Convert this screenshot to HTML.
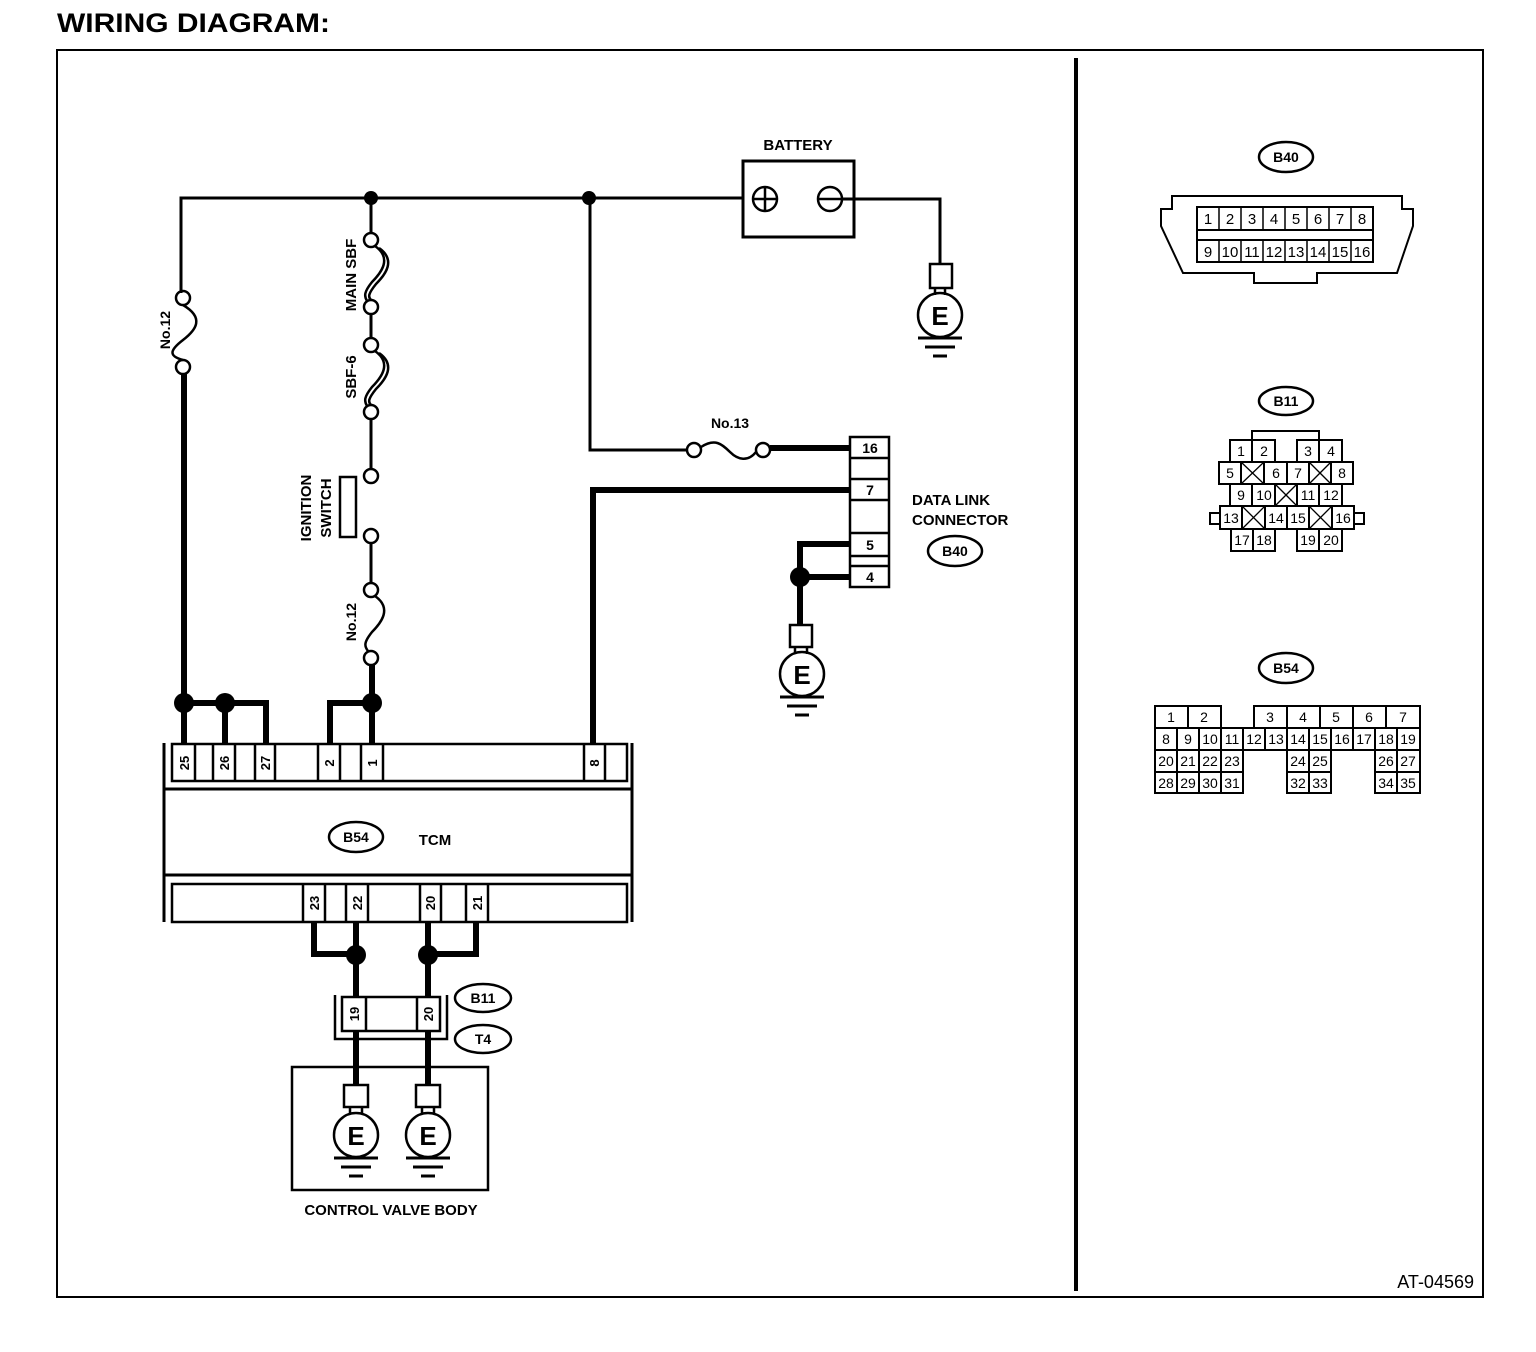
<!DOCTYPE html>
<html><head><meta charset="utf-8"><style>
html,body{margin:0;padding:0;background:#fff;}
svg{display:block;}
text{font-family:"Liberation Sans",Arial,sans-serif;font-weight:bold;fill:#000;}
.n text,text.n{font-weight:normal;}
</style></head><body>
<svg width="1536" height="1352" viewBox="0 0 1536 1352" xmlns="http://www.w3.org/2000/svg">
<g fill="none" stroke="#000">
<!-- frame -->
<rect x="57" y="50" width="1426" height="1247" stroke-width="2"/>
<line x1="1076" y1="58" x2="1076" y2="1291" stroke-width="4"/>

<!-- top wire -->
<polyline points="181,293 181,198 743,198" stroke-width="3"/>
<!-- battery -->
<rect x="743" y="161" width="111" height="76" stroke-width="3"/>
<circle cx="765" cy="199" r="12" stroke-width="2.5"/>
<line x1="753" y1="199" x2="777" y2="199" stroke-width="2.5"/>
<line x1="765" y1="187" x2="765" y2="211" stroke-width="2.5"/>
<circle cx="830" cy="199" r="12" stroke-width="2.5"/>
<line x1="818" y1="199" x2="842" y2="199" stroke-width="2.5"/>
<polyline points="842,199 940,199 940,264" stroke-width="3"/>

<!-- left No.12 fuse -->
<circle cx="183" cy="298" r="7" stroke-width="2.5"/>
<path d="M183,305 C205,318 196,330 183,340 C170,350 168,356 183,360" stroke-width="2.5"/>
<circle cx="183" cy="367" r="7" stroke-width="2.5"/>
<line x1="184" y1="374" x2="184" y2="703" stroke-width="6"/>

<!-- x=371 chain -->
<line x1="371" y1="198" x2="371" y2="233" stroke-width="3"/>
<circle cx="371" cy="240" r="7" stroke-width="2.5"/>
<path d="M375,246 C392,258 382,272 372,282 C364,292 364,296 367,301" stroke-width="2.5"/>
<path d="M379,248 C396,260 386,274 376,284 C368,294 368,297 371,300" stroke-width="2.5"/>
<circle cx="371" cy="307" r="7" stroke-width="2.5"/>
<line x1="371" y1="314" x2="371" y2="338" stroke-width="3"/>
<circle cx="371" cy="345" r="7" stroke-width="2.5"/>
<path d="M375,351 C392,363 382,377 372,387 C364,397 364,401 367,406" stroke-width="2.5"/>
<path d="M379,353 C396,365 386,379 376,389 C368,399 368,402 371,405" stroke-width="2.5"/>
<circle cx="371" cy="412" r="7" stroke-width="2.5"/>
<line x1="371" y1="419" x2="371" y2="469" stroke-width="3"/>
<circle cx="371" cy="476" r="7" stroke-width="2.5"/>
<rect x="340" y="477" width="16" height="60" stroke-width="2.5"/>
<circle cx="371" cy="536" r="7" stroke-width="2.5"/>
<line x1="371" y1="543" x2="371" y2="583" stroke-width="3"/>
<circle cx="371" cy="590" r="7" stroke-width="2.5"/>
<path d="M375,596 C392,608 382,622 372,632 C364,642 364,646 368,651" stroke-width="2.5"/>
<circle cx="371" cy="658" r="7" stroke-width="2.5"/>
<line x1="372" y1="665" x2="372" y2="743" stroke-width="6"/>

<!-- TCM top pins wires -->
<polyline points="184,703 184,743" stroke-width="6"/>
<polyline points="184,703 266,703 266,743" stroke-width="6"/>
<polyline points="225,703 225,743" stroke-width="6"/>
<polyline points="372,703 330,703 330,743" stroke-width="6"/>

<!-- wire 16 -->
<polyline points="590,198 590,450 688,450" stroke-width="3"/>
<circle cx="694" cy="450" r="7" stroke-width="2.5"/>
<path d="M701,447 C715,438 722,444 730,452 C738,460 748,462 756,452" stroke-width="2.5"/>
<circle cx="763" cy="450" r="7" stroke-width="2.5"/>
<line x1="770" y1="448" x2="850" y2="448" stroke-width="6"/>
<!-- wire 8/7 -->
<polyline points="593,743 593,490 850,490" stroke-width="6"/>
<!-- DLC -->
<rect x="850" y="437" width="39" height="150" stroke-width="2.5"/>
<line x1="850" y1="458" x2="889" y2="458" stroke-width="2.5"/>
<line x1="850" y1="479" x2="889" y2="479" stroke-width="2.5"/>
<line x1="850" y1="500" x2="889" y2="500" stroke-width="2.5"/>
<line x1="850" y1="533" x2="889" y2="533" stroke-width="2.5"/>
<line x1="850" y1="556" x2="889" y2="556" stroke-width="2.5"/>
<line x1="850" y1="566" x2="889" y2="566" stroke-width="2.5"/>
<polyline points="850,544 800,544 800,625" stroke-width="6"/>
<line x1="800" y1="577" x2="850" y2="577" stroke-width="6"/>

<!-- TCM body -->
<line x1="164" y1="743" x2="164" y2="922" stroke-width="3"/>
<line x1="632" y1="743" x2="632" y2="922" stroke-width="3"/>
<line x1="164" y1="789" x2="632" y2="789" stroke-width="3"/>
<line x1="164" y1="875" x2="632" y2="875" stroke-width="3"/>
<rect x="172" y="744" width="455" height="37" stroke-width="2.5"/>
<rect x="172" y="884" width="455" height="38" stroke-width="2.5"/>
<g stroke-width="2.5">
<line x1="195" y1="744" x2="195" y2="781"/><line x1="213" y1="744" x2="213" y2="781"/>
<line x1="235" y1="744" x2="235" y2="781"/><line x1="255" y1="744" x2="255" y2="781"/>
<line x1="275" y1="744" x2="275" y2="781"/><line x1="318" y1="744" x2="318" y2="781"/>
<line x1="340" y1="744" x2="340" y2="781"/><line x1="361" y1="744" x2="361" y2="781"/>
<line x1="383" y1="744" x2="383" y2="781"/><line x1="584" y1="744" x2="584" y2="781"/>
<line x1="605" y1="744" x2="605" y2="781"/>
<line x1="303" y1="884" x2="303" y2="922"/><line x1="325" y1="884" x2="325" y2="922"/>
<line x1="346" y1="884" x2="346" y2="922"/><line x1="368" y1="884" x2="368" y2="922"/>
<line x1="420" y1="884" x2="420" y2="922"/><line x1="441" y1="884" x2="441" y2="922"/>
<line x1="466" y1="884" x2="466" y2="922"/><line x1="488" y1="884" x2="488" y2="922"/>
</g>
<ellipse cx="356" cy="837" rx="27" ry="15" stroke-width="2.5"/>

<!-- bottom wires -->
<polyline points="314,922 314,954 356,954" stroke-width="6"/>
<line x1="356" y1="922" x2="356" y2="1085" stroke-width="6"/>
<polyline points="476,922 476,954 428,954" stroke-width="6"/>
<line x1="428" y1="922" x2="428" y2="1085" stroke-width="6"/>
<rect x="342" y="997" width="98" height="34" fill="#fff" stroke-width="2.5"/>
<line x1="366" y1="997" x2="366" y2="1031" stroke-width="2.5"/>
<line x1="417" y1="997" x2="417" y2="1031" stroke-width="2.5"/>
<polyline points="335,995 335,1039 447,1039 447,995" stroke-width="2.5"/>
<ellipse cx="483" cy="998" rx="28" ry="14" stroke-width="2.5"/>
<ellipse cx="483" cy="1039" rx="28" ry="14" stroke-width="2.5"/>
<rect x="292" y="1067" width="196" height="123" stroke-width="2.5"/>
<ellipse cx="955" cy="551" rx="27" ry="15" stroke-width="2.5"/>

<!-- grounds -->
<g stroke-width="2.5">
<rect x="930" y="264" width="22" height="24"/><line x1="935" y1="288" x2="935" y2="295"/><line x1="945" y1="288" x2="945" y2="295"/>
<circle cx="940" cy="315" r="22"/>
<line x1="918" y1="338" x2="962" y2="338" stroke-width="3"/><line x1="925" y1="347" x2="955" y2="347" stroke-width="3"/><line x1="933" y1="356" x2="947" y2="356" stroke-width="3"/>

<rect x="790" y="625" width="22" height="22"/><line x1="795" y1="647" x2="795" y2="654"/><line x1="807" y1="647" x2="807" y2="654"/>
<circle cx="802" cy="674" r="22"/>
<line x1="780" y1="697" x2="824" y2="697" stroke-width="3"/><line x1="787" y1="706" x2="817" y2="706" stroke-width="3"/><line x1="795" y1="715" x2="809" y2="715" stroke-width="3"/>

<rect x="344" y="1085" width="24" height="22"/><line x1="350" y1="1107" x2="350" y2="1114"/><line x1="362" y1="1107" x2="362" y2="1114"/>
<circle cx="356" cy="1135" r="22"/>
<line x1="334" y1="1158" x2="378" y2="1158" stroke-width="3"/><line x1="341" y1="1167" x2="371" y2="1167" stroke-width="3"/><line x1="349" y1="1176" x2="363" y2="1176" stroke-width="3"/>

<rect x="416" y="1085" width="24" height="22"/><line x1="422" y1="1107" x2="422" y2="1114"/><line x1="434" y1="1107" x2="434" y2="1114"/>
<circle cx="428" cy="1135" r="22"/>
<line x1="406" y1="1158" x2="450" y2="1158" stroke-width="3"/><line x1="413" y1="1167" x2="443" y2="1167" stroke-width="3"/><line x1="421" y1="1176" x2="435" y2="1176" stroke-width="3"/>
</g>

<!-- right side connectors -->
<ellipse cx="1286" cy="157" rx="27" ry="15" stroke-width="2.5"/>
<polygon points="1172,196 1402,196 1402,209 1413,209 1413,226 1397,273 1317,273 1317,283 1254,283 1254,273 1183,273 1161,226 1161,209 1172,209" stroke-width="2"/>
<rect x="1197" y="207" width="176" height="55" stroke-width="2"/>
<line x1="1197" y1="230" x2="1373" y2="230" stroke-width="2"/>
<line x1="1197" y1="240" x2="1373" y2="240" stroke-width="2"/>
<g stroke-width="1.5">
<line x1="1219" y1="207" x2="1219" y2="230"/><line x1="1241" y1="207" x2="1241" y2="230"/><line x1="1263" y1="207" x2="1263" y2="230"/><line x1="1285" y1="207" x2="1285" y2="230"/><line x1="1307" y1="207" x2="1307" y2="230"/><line x1="1329" y1="207" x2="1329" y2="230"/><line x1="1351" y1="207" x2="1351" y2="230"/>
<line x1="1219" y1="240" x2="1219" y2="262"/><line x1="1241" y1="240" x2="1241" y2="262"/><line x1="1263" y1="240" x2="1263" y2="262"/><line x1="1285" y1="240" x2="1285" y2="262"/><line x1="1307" y1="240" x2="1307" y2="262"/><line x1="1329" y1="240" x2="1329" y2="262"/><line x1="1351" y1="240" x2="1351" y2="262"/>
</g>

<ellipse cx="1286" cy="401" rx="27" ry="14" stroke-width="2.5"/>
<g stroke-width="2">
<polyline points="1252,440 1252,431 1319,431 1319,440"/>
<rect x="1230" y="440" width="45" height="22"/><line x1="1252" y1="440" x2="1252" y2="462"/>
<rect x="1297" y="440" width="45" height="22"/><line x1="1319" y1="440" x2="1319" y2="462"/>
<rect x="1219" y="462" width="134" height="22"/>
<line x1="1241" y1="462" x2="1241" y2="484"/><line x1="1264" y1="462" x2="1264" y2="484"/><line x1="1287" y1="462" x2="1287" y2="484"/><line x1="1309" y1="462" x2="1309" y2="484"/><line x1="1331" y1="462" x2="1331" y2="484"/>
<rect x="1230" y="484" width="112" height="22"/>
<line x1="1252" y1="484" x2="1252" y2="506"/><line x1="1275" y1="484" x2="1275" y2="506"/><line x1="1297" y1="484" x2="1297" y2="506"/><line x1="1319" y1="484" x2="1319" y2="506"/>
<rect x="1220" y="506" width="134" height="23"/>
<line x1="1242" y1="506" x2="1242" y2="529"/><line x1="1265" y1="506" x2="1265" y2="529"/><line x1="1287" y1="506" x2="1287" y2="529"/><line x1="1309" y1="506" x2="1309" y2="529"/><line x1="1332" y1="506" x2="1332" y2="529"/>
<rect x="1210" y="513" width="10" height="11"/><rect x="1354" y="513" width="10" height="11"/>
<rect x="1231" y="529" width="44" height="22"/><line x1="1253" y1="529" x2="1253" y2="551"/>
<rect x="1297" y="529" width="45" height="22"/><line x1="1319" y1="529" x2="1319" y2="551"/>
</g>
<g stroke-width="1.3">
<line x1="1241" y1="462" x2="1264" y2="484"/><line x1="1264" y1="462" x2="1241" y2="484"/>
<line x1="1309" y1="462" x2="1331" y2="484"/><line x1="1331" y1="462" x2="1309" y2="484"/>
<line x1="1275" y1="484" x2="1297" y2="506"/><line x1="1297" y1="484" x2="1275" y2="506"/>
<line x1="1242" y1="506" x2="1265" y2="529"/><line x1="1265" y1="506" x2="1242" y2="529"/>
<line x1="1309" y1="506" x2="1332" y2="529"/><line x1="1332" y1="506" x2="1309" y2="529"/>
</g>

<ellipse cx="1286" cy="668" rx="27" ry="15" stroke-width="2.5"/>
<g stroke-width="2">
<rect x="1155" y="706" width="66" height="22"/><line x1="1188" y1="706" x2="1188" y2="728"/>
<rect x="1254" y="706" width="166" height="22"/>
<line x1="1287" y1="706" x2="1287" y2="728"/><line x1="1320" y1="706" x2="1320" y2="728"/><line x1="1353" y1="706" x2="1353" y2="728"/><line x1="1386" y1="706" x2="1386" y2="728"/>
<rect x="1155" y="728" width="265" height="22"/>
<line x1="1177" y1="728" x2="1177" y2="750"/><line x1="1199" y1="728" x2="1199" y2="750"/><line x1="1221" y1="728" x2="1221" y2="750"/><line x1="1243" y1="728" x2="1243" y2="750"/><line x1="1265" y1="728" x2="1265" y2="750"/><line x1="1287" y1="728" x2="1287" y2="750"/><line x1="1309" y1="728" x2="1309" y2="750"/><line x1="1331" y1="728" x2="1331" y2="750"/><line x1="1353" y1="728" x2="1353" y2="750"/><line x1="1375" y1="728" x2="1375" y2="750"/><line x1="1397" y1="728" x2="1397" y2="750"/>
<rect x="1155" y="750" width="88" height="43"/><line x1="1155" y1="772" x2="1243" y2="772"/>
<line x1="1177" y1="750" x2="1177" y2="793"/><line x1="1199" y1="750" x2="1199" y2="793"/><line x1="1221" y1="750" x2="1221" y2="793"/>
<rect x="1287" y="750" width="44" height="43"/><line x1="1287" y1="772" x2="1331" y2="772"/><line x1="1309" y1="750" x2="1309" y2="793"/>
<rect x="1375" y="750" width="45" height="43"/><line x1="1375" y1="772" x2="1420" y2="772"/><line x1="1397" y1="750" x2="1397" y2="793"/>
</g>
</g>

<!-- junction dots -->
<g fill="#000">
<circle cx="371" cy="198" r="7"/><circle cx="589" cy="198" r="7"/>
<circle cx="184" cy="703" r="10"/><circle cx="225" cy="703" r="10"/><circle cx="372" cy="703" r="10"/>
<circle cx="800" cy="577" r="10"/>
<circle cx="356" cy="955" r="10"/><circle cx="428" cy="955" r="10"/>
</g>

<!-- text -->
<text x="57" y="32" font-size="27" textLength="273" lengthAdjust="spacingAndGlyphs">WIRING DIAGRAM:</text>
<text x="798" y="150" font-size="15" text-anchor="middle">BATTERY</text>
<text x="730" y="428" font-size="14" text-anchor="middle">No.13</text>
<text x="912" y="505" font-size="15">DATA LINK</text>
<text x="912" y="525" font-size="15">CONNECTOR</text>
<text x="955" y="556" font-size="14" text-anchor="middle">B40</text>
<text x="356" y="842" font-size="14" text-anchor="middle">B54</text>
<text x="435" y="845" font-size="15" text-anchor="middle">TCM</text>
<text x="483" y="1003" font-size="14" text-anchor="middle">B11</text>
<text x="483" y="1044" font-size="14" text-anchor="middle">T4</text>
<text x="391" y="1215" font-size="15" text-anchor="middle">CONTROL VALVE BODY</text>
<text x="1474" y="1288" font-size="18" text-anchor="end" class="n">AT-04569</text>

<text transform="translate(170,330) rotate(-90)" font-size="14" text-anchor="middle">No.12</text>
<text transform="translate(356,275) rotate(-90)" font-size="15" text-anchor="middle">MAIN SBF</text>
<text transform="translate(356,377) rotate(-90)" font-size="15" text-anchor="middle">SBF-6</text>
<text transform="translate(311,508) rotate(-90)" font-size="15" text-anchor="middle">IGNITION</text>
<text transform="translate(331,508) rotate(-90)" font-size="15" text-anchor="middle">SWITCH</text>
<text transform="translate(356,622) rotate(-90)" font-size="14" text-anchor="middle">No.12</text>

<g font-size="13" text-anchor="middle">
<text transform="translate(189,763) rotate(-90)">25</text>
<text transform="translate(229,763) rotate(-90)">26</text>
<text transform="translate(270,763) rotate(-90)">27</text>
<text transform="translate(334,763) rotate(-90)">2</text>
<text transform="translate(377,763) rotate(-90)">1</text>
<text transform="translate(599,763) rotate(-90)">8</text>
<text transform="translate(319,903) rotate(-90)">23</text>
<text transform="translate(362,903) rotate(-90)">22</text>
<text transform="translate(435,903) rotate(-90)">20</text>
<text transform="translate(482,903) rotate(-90)">21</text>
<text transform="translate(359,1014) rotate(-90)">19</text>
<text transform="translate(433,1014) rotate(-90)">20</text>
</g>
<g font-size="14" text-anchor="middle">
<text x="870" y="453">16</text><text x="870" y="495">7</text><text x="870" y="550">5</text><text x="870" y="582">4</text>
<text x="1286" y="162">B40</text><text x="1286" y="406">B11</text><text x="1286" y="673">B54</text>
</g>
<g font-size="26" text-anchor="middle"><text x="940" y="325">E</text><text x="802" y="684">E</text><text x="356" y="1145">E</text><text x="428" y="1145">E</text></g>

<g font-size="15" class="n" text-anchor="middle">
<text x="1208" y="224">1</text><text x="1230" y="224">2</text><text x="1252" y="224">3</text><text x="1274" y="224">4</text><text x="1296" y="224">5</text><text x="1318" y="224">6</text><text x="1340" y="224">7</text><text x="1362" y="224">8</text>
<text x="1208" y="257">9</text><text x="1230" y="257">10</text><text x="1252" y="257">11</text><text x="1274" y="257">12</text><text x="1296" y="257">13</text><text x="1318" y="257">14</text><text x="1340" y="257">15</text><text x="1362" y="257">16</text>
</g>
<g font-size="14" class="n" text-anchor="middle">
<text x="1241" y="456">1</text><text x="1264" y="456">2</text><text x="1308" y="456">3</text><text x="1331" y="456">4</text>
<text x="1230" y="478">5</text><text x="1276" y="478">6</text><text x="1298" y="478">7</text><text x="1342" y="478">8</text>
<text x="1241" y="500">9</text><text x="1264" y="500">10</text><text x="1308" y="500">11</text><text x="1331" y="500">12</text>
<text x="1231" y="523">13</text><text x="1276" y="523">14</text><text x="1298" y="523">15</text><text x="1343" y="523">16</text>
<text x="1242" y="545">17</text><text x="1264" y="545">18</text><text x="1308" y="545">19</text><text x="1331" y="545">20</text>

<text x="1171" y="722">1</text><text x="1204" y="722">2</text><text x="1270" y="722">3</text><text x="1303" y="722">4</text><text x="1336" y="722">5</text><text x="1369" y="722">6</text><text x="1403" y="722">7</text>
<text x="1166" y="744">8</text><text x="1188" y="744">9</text><text x="1210" y="744">10</text><text x="1232" y="744">11</text><text x="1254" y="744">12</text><text x="1276" y="744">13</text><text x="1298" y="744">14</text><text x="1320" y="744">15</text><text x="1342" y="744">16</text><text x="1364" y="744">17</text><text x="1386" y="744">18</text><text x="1408" y="744">19</text>
<text x="1166" y="766">20</text><text x="1188" y="766">21</text><text x="1210" y="766">22</text><text x="1232" y="766">23</text><text x="1298" y="766">24</text><text x="1320" y="766">25</text><text x="1386" y="766">26</text><text x="1408" y="766">27</text>
<text x="1166" y="788">28</text><text x="1188" y="788">29</text><text x="1210" y="788">30</text><text x="1232" y="788">31</text><text x="1298" y="788">32</text><text x="1320" y="788">33</text><text x="1386" y="788">34</text><text x="1408" y="788">35</text>
</g>
</svg>
</body></html>
